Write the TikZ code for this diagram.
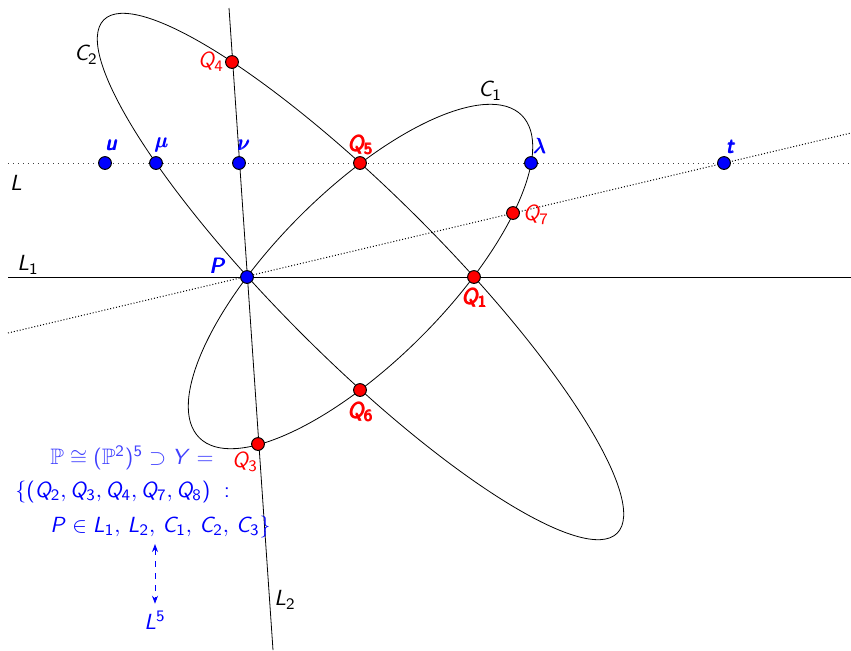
\documentclass[tikz,border=0pt]{standalone}
\usepackage{amsmath,amssymb}
\usepackage{tikz}
\usetikzlibrary{arrows.meta}
% sans serif letters and digits in math
\DeclareSymbolFont{sfletters}{OT1}{cmss}{m}{sl}
\SetSymbolFont{operators}{normal}{OT1}{cmss}{m}{n}
\DeclareMathSymbol{P}{\mathalpha}{sfletters}{`P}
\DeclareMathSymbol{Q}{\mathalpha}{sfletters}{`Q}
\DeclareMathSymbol{L}{\mathalpha}{sfletters}{`L}
\DeclareMathSymbol{C}{\mathalpha}{sfletters}{`C}
\DeclareMathSymbol{Y}{\mathalpha}{sfletters}{`Y}
\DeclareMathSymbol{u}{\mathalpha}{sfletters}{`u}
\DeclareMathSymbol{t}{\mathalpha}{sfletters}{`t}

\begin{document}
\begin{tikzpicture}[x=0.5pt,y=-0.5pt,
  every node/.style={font=\fontsize{11.2pt}{13pt}\selectfont},
  bpt/.style={circle,draw=black,fill=blue,inner sep=0pt,minimum size=6.4pt,line width=0.5pt},
  rpt/.style={bpt,fill=red},
  blab/.style={text=blue,inner sep=1pt},
  rlab/.style={text=red,inner sep=1pt},
  curve/.style={black,line width=0.4pt},
  guide/.style={dotted,black!75,line width=0.5pt}
]
\useasboundingbox (0,0) rectangle (851,650);
% the two conics, common centre
\coordinate (O) at (360.5,276.5);
\draw[curve,rotate around={45:(O)}] (O) ellipse [x radius=228,y radius=85.5];
\draw[curve,rotate around={-45:(O)}] (O) ellipse [x radius=363,y radius=82];
% lines
\coordinate (Lw) at (8,163);
\coordinate (Le) at (851,163);
\coordinate (L1w) at (8,277);
\coordinate (L1e) at (851,277);
\coordinate (L2n) at (229,8);
\coordinate (L2s) at (273,650);
\coordinate (Tw) at (8,333);
\coordinate (Te) at (851,133);
\draw[guide] (Lw) -- (Le);
\draw[curve] (L1w) -- (L1e);
\draw[curve] (L2n) -- (L2s);
\draw[guide,densely dotted,black] (Tw) -- (Te);
% points
\node[bpt] (u) at (105,163) {};
\node[bpt] (mu) at (156,163) {};
\node[bpt] (nu) at (239,163) {};
\node[rpt] (Q5) at (360,163) {};
\node[bpt] (lambda) at (531,163) {};
\node[bpt] (t) at (724,163) {};
\node[rpt] (Q4) at (232,62) {};
\node[rpt] (Q7) at (513,213) {};
\node[bpt] (P) at (247,277) {};
\node[rpt] (Q1) at (474,277) {};
\node[rpt] (Q6) at (360,390) {};
\node[rpt] (Q3) at (258,444) {};
% point labels
\node[blab] (ulab) at (112,145) {$\pmb{u}$};
\node[blab] (mulab) at (162,145) {$\pmb{\mu}$};
\node[blab] (nulab) at (244,145) {$\pmb{\nu}$};
\node[rlab] (Q5lab) at (361,145) {$\pmb{Q_5}$};
\node[blab] (lambdalab) at (540,146) {$\pmb{\lambda}$};
\node[blab] (tlab) at (731,147) {$\pmb{t}$};
\node[rlab] (Q4lab) at (211,62) {$Q_4$};
\node[rlab] (Q7lab) at (536,215) {$Q_7$};
\node[blab] (Plab) at (218,266) {$\pmb{P}$};
\node[rlab] (Q1lab) at (475,298) {$\pmb{Q_1}$};
\node[rlab] (Q6lab) at (361,412) {$\pmb{Q_6}$};
\node[rlab] (Q3lab) at (245,462) {$Q_3$};
% curve and line labels
\node (C2lab) at (86,55) {$C_2$};
\node (C1lab) at (490,91) {$C_1$};
\node (Llab) at (16,183) {$L$};
\node (L1lab) at (28,265) {$L_1$};
\node (L2lab) at (285,600) {$L_2$};
% the set Y
\node[text=blue!75,anchor=west,inner sep=0pt] (Y1) at (50,458) {$\mathbb{P}\cong(\mathbb{P}^2)^5\supset Y=$};
\node[text=blue,anchor=west,inner sep=0pt] (Y2) at (15,492) {$\{(Q_2,Q_3,Q_4,Q_7,Q_8)\ :$};
\node[text=blue,anchor=west,inner sep=0pt] (Y3) at (50,527) {$P\in L_1,\,L_2,\,C_1,\,C_2,\,C_3\}$};
\node[text=blue] (L5) at (155,620) {$L^5$};
\draw[blue,dashed,{Stealth[length=4pt]}-{Stealth[length=4pt]}] (155,544) -- (L5.north);
\end{tikzpicture}
\end{document}
